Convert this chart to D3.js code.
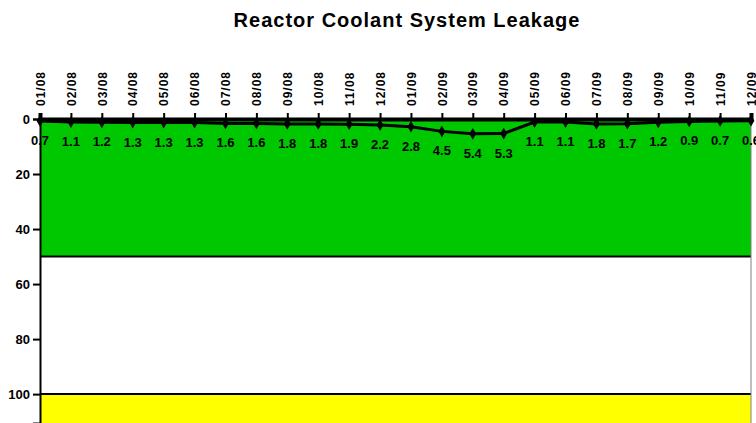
<!DOCTYPE html>
<html>
<head>
<meta charset="utf-8">
<script src="https://cdn.jsdelivr.net/npm/d3@7"></script>
<style>
  body { margin: 0; background: #fff; }
  svg { display: block; font-family: "Liberation Sans", Arial, sans-serif; }
</style>
</head>
<body>
<svg id="chart" width="756" height="423"></svg>
<script>
// months along the top axis
var months = ["01/08", "02/08", "03/08", "04/08", "05/08", "06/08", "07/08", "08/08",
    "09/08", "10/08", "11/08", "12/08", "01/09", "02/09", "03/09", "04/09",
    "05/09", "06/09", "07/09", "08/09", "09/09", "10/09", "11/09", "12/09"];
// leakage values
var leakage = [0.7, 1.1, 1.2, 1.3, 1.3, 1.3, 1.6, 1.6, 1.8, 1.8, 1.9, 2.2,
    2.8, 4.5, 5.4, 5.3, 1.1, 1.1, 1.8, 1.7, 1.2, 0.9, 0.7, 0.6];
// zones: green up to 50, white to 100, yellow beyond
var zoneEdges = [0, 50, 100, 110.5];
var zoneColors = ["#00c800", "#ffffff", "#ffff00"];
var yTicks = [0, 20, 40, 60, 80, 100];

var svg = d3.select("#chart");
var plotLeft = 40, plotRight = 751, plotTop = 119, plotBottom = 423;

var x = d3.scalePoint().domain(months).range([plotLeft, plotRight]);
var y = d3.scaleLinear().domain([0, 110.5]).range([plotTop, plotBottom]);

// title
svg.append("text").attr("x", 407).attr("y", 27).attr("text-anchor", "middle")
    .style("font-size", "20px").style("font-weight", "bold").style("letter-spacing", "1px")
    .text("Reactor Coolant System Leakage");

// zone bands
var zones = svg.append("g");
zoneColors.forEach(function (c, i) {
    zones.append("rect").attr("x", plotLeft).attr("y", y(zoneEdges[i]))
        .attr("width", plotRight - plotLeft).attr("height", y(zoneEdges[i + 1]) - y(zoneEdges[i]))
        .attr("fill", c);
});
// band edges
[50, 100].forEach(function (v) {
    svg.append("line").attr("x1", plotLeft).attr("x2", plotRight).attr("y1", y(v)).attr("y2", y(v))
        .attr("stroke", "#000").attr("stroke-width", 2);
});
svg.append("line").attr("x1", plotRight).attr("x2", plotRight).attr("y1", plotTop).attr("y2", plotBottom)
    .attr("stroke", "#808080").attr("stroke-width", 1);

// y axis
var yAxis = svg.append("g").attr("transform", "translate(" + plotLeft + ",0)")
    .call(d3.axisLeft(y).tickValues(yTicks).tickSize(7).tickPadding(3));
yAxis.select(".domain").attr("stroke-width", 2);
yAxis.selectAll(".tick line").attr("stroke-width", 2);
yAxis.selectAll("text").style("font-size", "13px").style("font-weight", "bold").attr("fill", "#000");

// x axis at top
var xAxis = svg.append("g").attr("transform", "translate(0," + plotTop + ")")
    .call(d3.axisTop(x).tickSize(6).tickPadding(0));
xAxis.select(".domain").attr("stroke-width", 4);
xAxis.selectAll(".tick line").attr("stroke-width", 2);
xAxis.selectAll("text").attr("transform", "rotate(-90)").attr("x", 13).attr("y", 0)
    .attr("dy", "0.35em").attr("text-anchor", "start")
    .style("font-size", "12px").style("font-weight", "bold").style("letter-spacing", "1px")
    .attr("fill", "#000");

// line and markers
var line = d3.line().x(function (d, i) { return x(months[i]); }).y(function (d) { return y(d); });
svg.append("path").datum(leakage).attr("d", line).attr("fill", "none")
    .attr("stroke", "#000").attr("stroke-width", 3);
svg.selectAll(".pt").data(leakage).enter().append("path").attr("class", "pt")
    .attr("transform", function (d, i) { return "translate(" + x(months[i]) + "," + y(d) + ")"; })
    .attr("d", d3.symbol().type(d3.symbolDiamond).size(40)).attr("fill", "#000");

// value labels
svg.selectAll(".lbl").data(leakage).enter().append("text").attr("class", "lbl")
    .attr("x", function (d, i) { return x(months[i]); })
    .attr("y", function (d) { return y(d) + 24; })
    .attr("text-anchor", "middle").style("font-size", "13px").style("font-weight", "bold")
    .text(function (d) { return d.toFixed(1); });
</script>
</body>
</html>
